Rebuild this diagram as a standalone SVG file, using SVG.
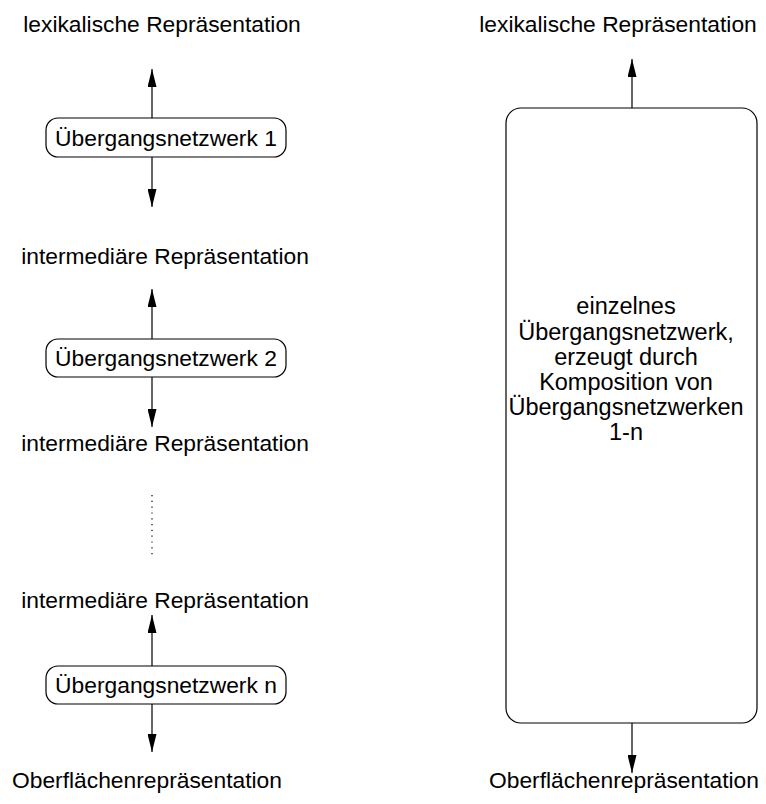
<svg xmlns="http://www.w3.org/2000/svg" width="766" height="804" viewBox="0 0 766 804">
  <style>
    text { font-family: "Liberation Sans", Arial, sans-serif; font-size: 22.8px; fill: #000; text-anchor: middle; }
    .inner { font-size: 23.5px; }
    .box { fill: #fff; stroke: #000; stroke-width: 1.2; }
    .edge { stroke: #000; stroke-width: 1.2; fill: none; }
    .dots { stroke: #000; stroke-width: 1.2; fill: none; stroke-dasharray: 1.2 4.6; }
  </style>
  <defs>
    <marker id="arrow" viewBox="0 0 18 9" refX="18" refY="4.5" markerWidth="18" markerHeight="9" markerUnits="userSpaceOnUse" orient="auto">
      <path d="M0,0 L18,4.5 L0,9 Z" fill="#000"/>
    </marker>
  </defs>

  <rect width="766" height="804" fill="#fff"/>

  <!-- left chain: representation labels -->
  <g id="lex-left"><text x="162" y="32">lexikalische Repräsentation</text></g>
  <g id="inter-1"><text x="165" y="264">intermediäre Repräsentation</text></g>
  <g id="inter-2"><text x="165" y="451">intermediäre Repräsentation</text></g>
  <g id="inter-3"><text x="165" y="608">intermediäre Repräsentation</text></g>
  <g id="surf-left"><text x="147" y="788">Oberflächenrepräsentation</text></g>

  <!-- left chain: transducers -->
  <g id="net-1">
    <rect class="box" x="46" y="118" width="240" height="39" rx="12"/>
    <text x="166" y="146">Übergangsnetzwerk 1</text>
  </g>
  <g id="net-2">
    <rect class="box" x="46" y="339" width="240" height="38" rx="12"/>
    <text x="166" y="366">Übergangsnetzwerk 2</text>
  </g>
  <g id="net-n">
    <rect class="box" x="46" y="666" width="240" height="38" rx="12"/>
    <text x="166" y="693">Übergangsnetzwerk n</text>
  </g>

  <!-- right side: composed transducer -->
  <g id="lex-right"><text x="618" y="32">lexikalische Repräsentation</text></g>
  <g id="net-composed">
    <rect class="box" x="506" y="108" width="251" height="615" rx="15"/>
    <text class="inner" x="626" y="314">einzelnes</text>
    <text class="inner" x="626" y="340">Übergangsnetzwerk,</text>
    <text class="inner" x="626" y="365">erzeugt durch</text>
    <text class="inner" x="626" y="390">Komposition von</text>
    <text class="inner" x="626" y="415">Übergangsnetzwerken</text>
    <text class="inner" x="626" y="440">1-n</text>
  </g>
  <g id="surf-right"><text x="624" y="788">Oberflächenrepräsentation</text></g>

  <!-- connectors -->
  <g id="connectors">
    <line class="edge" x1="152" y1="118" x2="152" y2="69" marker-end="url(#arrow)"/>
    <line class="edge" x1="152" y1="157" x2="152" y2="207" marker-end="url(#arrow)"/>
    <line class="edge" x1="152" y1="339" x2="152" y2="289" marker-end="url(#arrow)"/>
    <line class="edge" x1="152" y1="377" x2="152" y2="427" marker-end="url(#arrow)"/>
    <line class="dots" x1="152" y1="495" x2="152" y2="558"/>
    <line class="edge" x1="152" y1="666" x2="152" y2="615" marker-end="url(#arrow)"/>
    <line class="edge" x1="152" y1="704" x2="152" y2="752" marker-end="url(#arrow)"/>
    <line class="edge" x1="632" y1="108" x2="632" y2="59" marker-end="url(#arrow)"/>
    <line class="edge" x1="632" y1="723" x2="632" y2="773" marker-end="url(#arrow)"/>
  </g>
</svg>
